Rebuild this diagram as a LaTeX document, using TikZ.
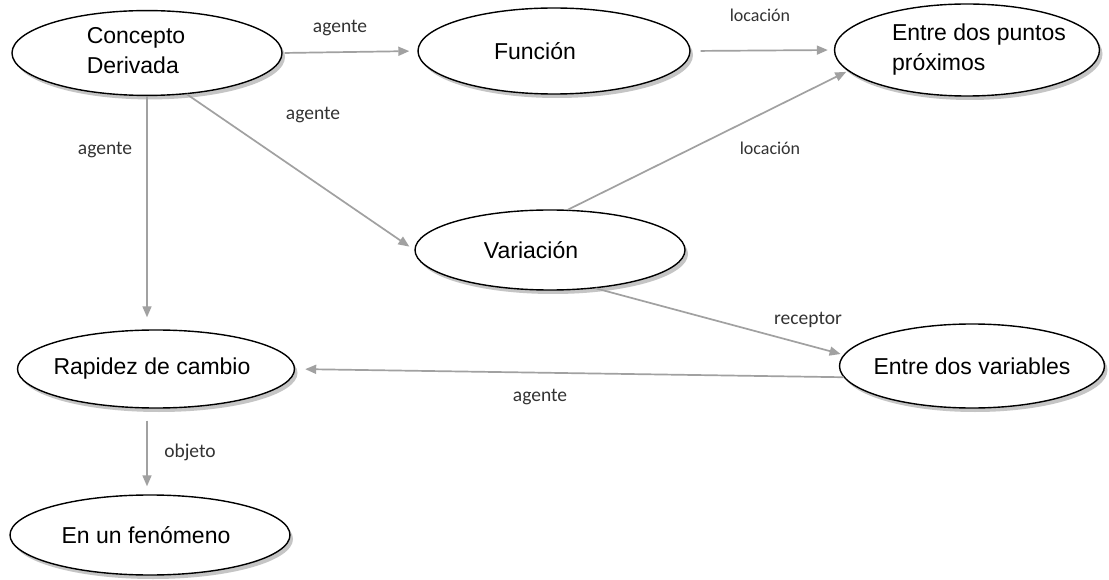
\documentclass[tikz,border=0pt]{standalone}
\usepackage{fontspec}
\setmainfont{Liberation Sans}
\newfontfamily\lblfont{Carlito}
\usetikzlibrary{shapes.geometric,arrows.meta,shadows}
\newcommand\ctext[2]{\makebox[0pt][c]{#2\hspace*{#1}}}
\newcommand\ctwo[3]{\makebox[0pt][c]{\begin{tabular}{@{}l@{}}#2\\#3\end{tabular}\hspace*{#1}}}
\newcommand\ctwor[3]{\makebox[0pt][c]{\hspace*{#1}\begin{tabular}{@{}l@{}}#2\\#3\end{tabular}}}
\begin{document}
\begin{tikzpicture}[x=1pt,y=-1pt,
  concept/.style={ellipse,draw=black,line width=1.4pt,fill=white,
    font=\fontsize{23}{30}\selectfont,inner sep=0pt,
    drop shadow={shadow xshift=3pt,shadow yshift=-4pt,fill=black!45,opacity=0.5}},
  link/.style={draw=black!37,line width=1.7pt,-{Triangle[length=11pt,width=9pt,fill=black!37]}},
  lbl/.style={font=\lblfont\fontsize{19.5}{22}\selectfont,text=black!80,inner sep=0pt}]
\useasboundingbox[fill=white] (0,0) rectangle (1109,580);

\node[concept,minimum width=270pt,minimum height=83pt] (cd) at (147,53) {\ctwo{22pt}{Concepto}{Derivada}};
\node[concept,minimum width=272pt,minimum height=86pt] (fn) at (554,51) {\ctext{38pt}{Función}};
\node[concept,minimum width=265pt,minimum height=92pt] (ep) at (967,50) {\ctwor{24pt}{Entre dos puntos}{próximos}};
\node[concept,minimum width=270pt,minimum height=80pt] (va) at (550,250) {\ctext{38pt}{Variación}};
\node[concept,minimum width=277pt,minimum height=78pt] (rc) at (156,369) {\ctext{8pt}{Rapidez de cambio}};
\node[concept,minimum width=265pt,minimum height=84pt] (ev) at (972,366) {\ctext{0pt}{Entre dos variables}};
\node[concept,minimum width=280pt,minimum height=80pt] (ef) at (150,535) {\ctext{8pt}{En un fenómeno}};

\draw[link,shorten <=2pt,shorten >=8pt] (cd.east) -- (fn.west);
\draw[link,shorten >=12pt] (cd.south) -- (cd.south |- rc.north);
\draw[link,shorten >=6pt] (cd.-46) -- (va.west);
\draw[link,shorten <=10pt,shorten >=6pt] (fn.east) -- (ep.west);
\draw[link,shorten >=2pt] (va.66) -- (ep.190);
\draw[link,shorten >=3pt] (va.-40) -- (ev.175);
\draw[link,shorten >=10pt] (ev.185) -- (rc.east);
\draw[link,shorten <=12pt,shorten >=8pt] (cd.south |- rc.south) -- (cd.south |- ef.north);

\node[lbl] (l1) at (340,28) {agente};
\node[lbl] (l2) at (105,150) {agente};
\node[lbl] (l3) at (313,115) {agente};
\node[lbl,font=\lblfont\fontsize{18}{22}\selectfont] (l4) at (760,15) {locación};
\node[lbl,font=\lblfont\fontsize{18}{22}\selectfont] (l5) at (770,148) {locación};
\node[lbl] (l6) at (808,320) {receptor};
\node[lbl] (l7) at (540,397) {agente};
\node[lbl] (l8) at (190,452) {objeto};
\end{tikzpicture}
\end{document}
